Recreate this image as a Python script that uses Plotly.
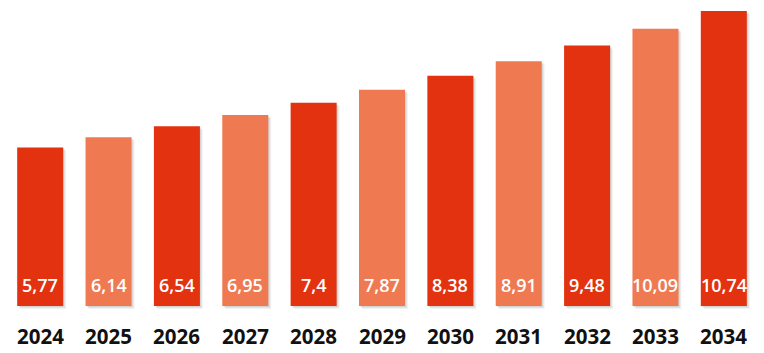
import plotly.graph_objects as go

years = ["2024", "2025", "2026", "2027", "2028", "2029", "2030", "2031", "2032", "2033", "2034"]
values = [5.77, 6.14, 6.54, 6.95, 7.4, 7.87, 8.38, 8.91, 9.48, 10.09, 10.74]
labels = ["5,77", "6,14", "6,54", "6,95", "7,4", "7,87", "8,38", "8,91", "9,48", "10,09", "10,74"]

dark = "#E2320F"
light = "#EF7A52"
colors = [dark if i % 2 == 0 else light for i in range(len(years))]

ymax = max(values)
px_per_unit = 295 / ymax
px_per_cat = (764 - 12) / len(years)
bar_w = 0.673
ymin = -4 / px_per_unit

fig = go.Figure()
# soft drop shadow
for d, a in [(3.0, 0.05), (2.0, 0.06), (1.0, 0.07)]:
    fig.add_trace(go.Bar(
        x=years, y=values, base=[-d / px_per_unit] * len(values),
        width=bar_w, offset=-bar_w / 2 + d / px_per_cat,
        marker=dict(color=f"rgba(0,0,0,{a})", line=dict(width=0)),
        hoverinfo="skip",
    ))
fig.add_trace(go.Bar(
    x=years, y=values, width=bar_w, offset=-bar_w / 2,
    marker=dict(color=colors, line=dict(width=0)),
    hoverinfo="skip",
))
for i, lab in enumerate(labels):
    fig.add_annotation(
        x=i, y=0, xref="x", yref="y", text=lab, showarrow=False,
        yanchor="middle", yshift=21,
        font=dict(family="Open Sans", size=18, color="white", weight=600),
    )
for i, yr in enumerate(years):
    fig.add_annotation(
        x=i, y=0, xref="x", yref="y", text=yr, showarrow=False,
        yanchor="middle", yshift=-30,
        font=dict(family="Open Sans", size=20.5, color="#111111", weight=700),
    )
fig.update_layout(
    width=764, height=353,
    margin=dict(l=6, r=6, t=11, b=43),
    paper_bgcolor="white", plot_bgcolor="white",
    barmode="overlay",
    showlegend=False,
    xaxis=dict(type="category", range=[-0.5, 10.5], showgrid=False, zeroline=False,
               showline=False, showticklabels=False),
    yaxis=dict(range=[ymin, ymax], visible=False, showgrid=False),
)
fig.write_html("out.html")
